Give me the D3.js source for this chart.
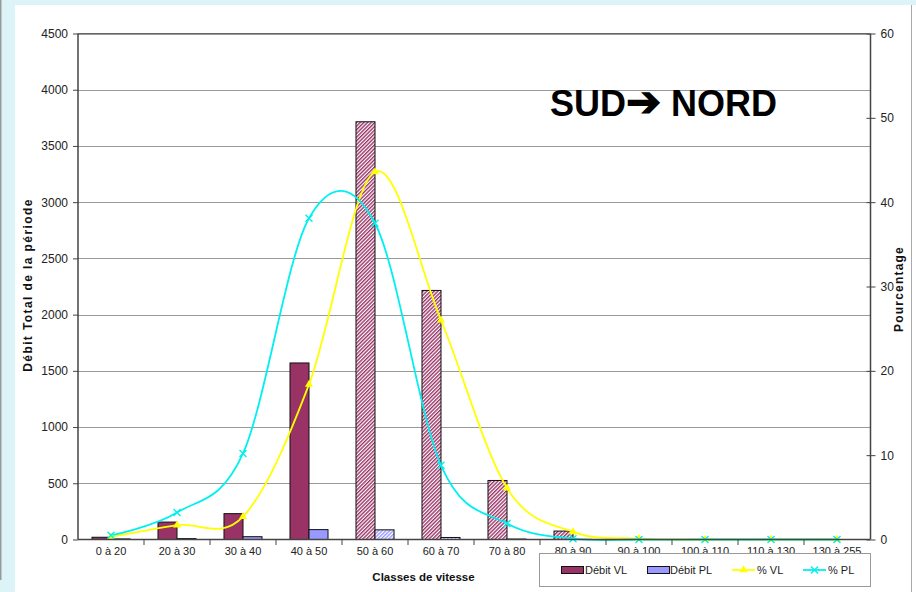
<!DOCTYPE html>
<html>
<head>
<meta charset="utf-8">
<script src="https://cdn.jsdelivr.net/npm/d3@7"></script>
<style>
	body { margin:0; background:#dcf4f8; }
	svg { display:block; }
	text { font-family:"Liberation Sans", Arial, sans-serif; fill:#222; }
</style>
</head>
<body>
<svg id="chart" width="916" height="592"></svg>
<script>
	// --------------------------------
	// data
	// --------------------------------

	var categories = ["0 à 20","20 à 30","30 à 40","40 à 50","50 à 60","60 à 70","70 à 80","80 à 90","90 à 100","100 à 110","110 à 130","130 à 255"];
	var debitVL = [20,155,230,1570,3715,2215,525,75,4,0,0,0];
	var debitPL = [5,8,25,88,86,18,4,1,0,0,0,0];
	var pctVL   = [0.3,1.7,2.7,18.4,43.6,26.0,6.1,0.9,0.1,0,0,0];
	var pctPL   = [0.5,3.2,10.2,38.1,37.5,8.8,1.9,0.1,0,0,0,0];
	var leftTicks  = [0,500,1000,1500,2000,2500,3000,3500,4000,4500];
	var rightTicks = [0,10,20,30,40,50,60];

	var colVL = "#993366", colPL = "#9999ff", colPctVL = "#ffff00", colPctPL = "#00f0f0";
	var hatchFrom = categories.indexOf("50 à 60");

	var svg = d3.select("#chart");

	// frame
	svg.append("rect").attr("x",15).attr("y",5).attr("width",901).attr("height",587).attr("fill","#fff");
	svg.append("line").attr("x1",0.75).attr("x2",0.75).attr("y1",0).attr("y2",580).attr("stroke","#999").attr("stroke-width",1.5);
	svg.append("line").attr("x1",911.5).attr("x2",911.5).attr("y1",5).attr("y2",592).attr("stroke","#aaa");

	// hatch patterns
	var defs = svg.append("defs");
	[["hatchVL",colVL],["hatchPL",colPL]].forEach(function(p){
		var pat = defs.append("pattern").attr("id",p[0]).attr("width",2.6).attr("height",2.6)
			.attr("patternUnits","userSpaceOnUse").attr("patternTransform","rotate(45)");
		pat.append("rect").attr("width",2.6).attr("height",2.6).attr("fill","#fff");
		pat.append("rect").attr("width",1.4).attr("height",2.6).attr("fill",p[1]);
	});

	var x = d3.scaleBand().domain(categories).range([78,870]);
	var bw = x.bandwidth();
	var xSub = d3.scaleBand().domain(["VL","PL"]).range([bw*0.212, bw*0.788]);
	var yL = d3.scaleLinear().domain([0,4500]).range([539.5,33.5]);
	var yR = d3.scaleLinear().domain([0,60]).range([539.5,33.5]);

	// gridlines
	svg.append("g").selectAll("line").data(leftTicks.slice(1)).join("line")
		.attr("x1",78).attr("x2",870).attr("y1",function(d){return Math.round(yL(d))+0.5;}).attr("y2",function(d){return Math.round(yL(d))+0.5;})
		.attr("stroke","#999").attr("stroke-width",1);

	// bars
	function drawBars(vals, key, col, hatch){
		svg.append("g").selectAll("rect").data(vals).join("rect")
			.attr("x",function(d,i){return x(categories[i])+xSub(key);})
			.attr("width",xSub.bandwidth())
			.attr("y",function(d){return yL(d);})
			.attr("height",function(d){return yL(0)-yL(d);})
			.attr("fill",function(d,i){return i>=hatchFrom ? "url(#"+hatch+")" : col;})
			.attr("stroke","#111").attr("stroke-width",1)
			.style("display",function(d){return d>0?null:"none";});
	}
	drawBars(debitVL,"VL",colVL,"hatchVL");
	drawBars(debitPL,"PL",colPL,"hatchPL");

	// smoothed percentage lines
	var cx = function(d,i){return x(categories[i])+bw/2;};
	function drawLine(vals, col){
		var line = d3.line().x(cx).y(function(d){return yR(d);}).curve(d3.curveCardinal.tension(0));
		svg.append("path").attr("d",line(vals)).attr("fill","none").attr("stroke",col).attr("stroke-width",1.8);
	}
	drawLine(pctVL,colPctVL);
	drawLine(pctPL,colPctPL);

	var tri = d3.symbol().type(d3.symbolTriangle).size(28);
	svg.append("g").selectAll("path").data(pctVL).join("path")
		.attr("d",tri).attr("transform",function(d,i){return "translate("+cx(d,i)+","+yR(d)+")";})
		.attr("fill",colPctVL);
	var cross = "M-3.5,-3.5L3.5,3.5M-3.5,3.5L3.5,-3.5";
	svg.append("g").selectAll("path").data(pctPL).join("path")
		.attr("d",cross).attr("transform",function(d,i){return "translate("+cx(d,i)+","+yR(d)+")";})
		.attr("stroke",colPctPL).attr("stroke-width",1.4);

	// axes
	var axL = svg.append("g").attr("transform","translate(78,0)")
		.call(d3.axisLeft(yL).tickValues(leftTicks).tickSize(5).tickPadding(5).tickFormat(d3.format("d")));
	var axR = svg.append("g").attr("transform","translate(870.5,0)")
		.call(d3.axisRight(yR).tickValues(rightTicks).tickSize(5).tickPadding(5));
	axR.selectAll(".tick line").attr("x1",-4);
	var axB = svg.append("g").attr("transform","translate(0,539.5)")
		.call(d3.axisBottom(x).tickSize(0).tickPadding(8));
	[axL,axR,axB].forEach(function(a){
		a.select(".domain").attr("stroke","#444").attr("stroke-width",1.5);
		a.selectAll(".tick line").attr("stroke","#444");
		a.selectAll("text").attr("font-family","Liberation Sans, Arial, sans-serif").attr("fill","#222");
	});
	axL.selectAll("text").attr("font-size",12);
	axR.selectAll("text").attr("font-size",12);
	axB.selectAll("text").attr("font-size",11);
	axB.select(".domain").attr("d","M78,0H870");
	axR.select(".domain").attr("d","M0,33.5V539.5");
	axL.select(".domain").attr("d","M0,33.5V539.5");
	// category boundary ticks
	svg.append("g").selectAll("line").data(categories.slice(1)).join("line")
		.attr("x1",function(d){return x(d);}).attr("x2",function(d){return x(d);})
		.attr("y1",540).attr("y2",545).attr("stroke","#444");
	// top border
	svg.append("line").attr("x1",78).attr("x2",870).attr("y1",33.5).attr("y2",33.5).attr("stroke","#666");

	// titles
	svg.append("text").attr("transform","translate(32,285) rotate(-90)").attr("text-anchor","middle")
		.attr("font-size",12).attr("font-weight","bold").attr("letter-spacing",1.4).style("fill","#111")
		.text("Débit Total de la période");
	svg.append("text").attr("transform","translate(903,289) rotate(-90)").attr("text-anchor","middle")
		.attr("font-size",12).attr("font-weight","bold").attr("letter-spacing",1.2).style("fill","#111")
		.text("Pourcentage");
	svg.append("text").attr("x",423.5).attr("y",581).attr("text-anchor","middle")
		.attr("font-size",11.5).attr("font-weight","bold").style("fill","#111")
		.text("Classes de vitesse");
	var title = svg.append("text").attr("x",550).attr("y",116)
		.attr("font-size",36).attr("font-weight","bold").style("fill","#000");
	title.append("tspan").text("SUD");
	title.append("tspan").attr("font-size",42).text("➔");
	title.append("tspan").text(" NORD");

	// legend
	var lg = svg.append("g");
	lg.append("rect").attr("x",539.5).attr("y",553.5).attr("width",331).attr("height",33)
		.attr("fill","#fff").attr("stroke","#999");
	var ly = 570;
	lg.append("rect").attr("x",561.5).attr("y",ly-3.5).attr("width",22).attr("height",7).attr("fill",colVL).attr("stroke","#111");
	lg.append("text").attr("x",585).attr("y",ly+4).attr("font-size",11).text("Débit VL");
	lg.append("rect").attr("x",647.5).attr("y",ly-3.5).attr("width",22).attr("height",7).attr("fill",colPL).attr("stroke","#111");
	lg.append("text").attr("x",670).attr("y",ly+4).attr("font-size",11).text("Débit PL");
	lg.append("line").attr("x1",732).attr("x2",755).attr("y1",ly).attr("y2",ly).attr("stroke",colPctVL).attr("stroke-width",1.8);
	lg.append("path").attr("d",tri).attr("transform","translate(743.5,"+ly+")").attr("fill",colPctVL);
	lg.append("text").attr("x",757).attr("y",ly+4).attr("font-size",11).text("% VL");
	lg.append("line").attr("x1",803).attr("x2",826).attr("y1",ly).attr("y2",ly).attr("stroke",colPctPL).attr("stroke-width",1.8);
	lg.append("path").attr("d",cross).attr("transform","translate(814.5,"+ly+")").attr("stroke",colPctPL).attr("stroke-width",1.4);
	lg.append("text").attr("x",828).attr("y",ly+4).attr("font-size",11).text("% PL");
</script>
</body>
</html>
